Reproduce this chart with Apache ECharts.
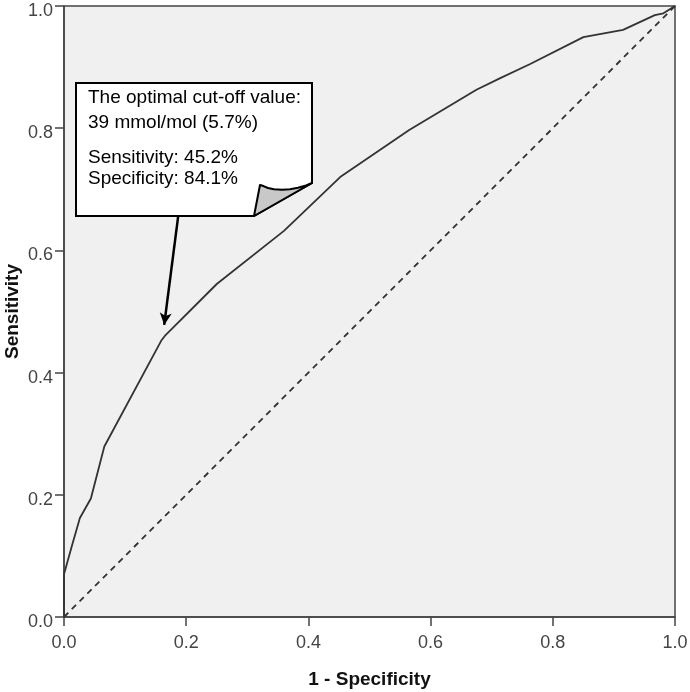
<!DOCTYPE html>
<html>
<head>
<meta charset="utf-8">
<script src="https://cdn.jsdelivr.net/npm/echarts@6/dist/echarts.min.js"></script>
<style>
  html, body { margin: 0; padding: 0; background: #fff; }
  #roc { width: 690px; height: 692px; }
</style>
</head>
<body>
<div id="roc"></div>
<script>
// ROC curve
const fpr = [0, 0, 0.0125, 0.026, 0.044, 0.066, 0.159, 0.165, 0.25, 0.36, 0.452, 0.565, 0.675, 0.714, 0.763, 0.85, 0.915, 0.967, 0.981, 1.0]
const tpr = [0, 0.07, 0.115, 0.162, 0.194, 0.279, 0.452, 0.46, 0.545, 0.632, 0.72, 0.797, 0.863, 0.882, 0.905, 0.949, 0.961, 0.985, 0.988, 1.0]
const refX = [0, 1]
const refY = [0, 1]
const tickLabels = ['0.0', '0.2', '0.4', '0.6', '0.8', '1.0']

// callout arrow: from bottom of the box to the optimal point
const arrowFrom = [0.187, 0.657]
const arrowTo = [0.164, 0.478]

const noteLines = ['The optimal cut-off value:', '39 mmol/mol (5.7%)', 'Sensitivity: 45.2%', 'Specificity: 84.1%']

const font = 'Arial, "Liberation Sans", sans-serif'

const chart = echarts.init(document.getElementById('roc'))

const axisCommon = {
  type: 'value',
  min: 0,
  max: 1,
  interval: 0.2,
  nameLocation: 'middle',
  nameTextStyle: { fontFamily: font, fontSize: 19, fontWeight: 'bold', color: '#111' },
  axisLine: { show: true, lineStyle: { color: '#444', width: 1.5 } },
  axisTick: { show: true, length: 9, lineStyle: { color: '#444', width: 1.5 } },
  splitLine: { show: false },
  axisLabel: {
    fontFamily: font,
    fontSize: 18,
    color: '#444',
    formatter: v => tickLabels[Math.round(v * 5)]
  }
}

const option = {
  animation: false,
  backgroundColor: '#fff',
  grid: {
    left: 64, top: 6, width: 611, height: 611,
    outerBoundsMode: 'none',
    containLabel: false,
    show: true,
    backgroundColor: '#f0f0f0',
    borderColor: '#444',
    borderWidth: 1.5
  },
  xAxis: Object.assign({}, axisCommon, {
    name: '1 - Specificity',
    nameGap: 53,
    axisLabel: Object.assign({}, axisCommon.axisLabel, { margin: 17 })
  }),
  yAxis: Object.assign({}, axisCommon, {
    name: 'Sensitivity',
    nameGap: 42,
    nameMoveOverlap: false,
    nameRotate: 90,
    axisLabel: Object.assign({}, axisCommon.axisLabel, {
      margin: 11,
      formatter: v => '{a|' + tickLabels[Math.round(v * 5)] + '}',
      rich: { a: { fontFamily: font, fontSize: 18, color: '#444', padding: [10, 0, 0, 0] } }
    })
  }),
  series: [
    {
      name: 'reference',
      type: 'line',
      data: refX.map((x, i) => [x, refY[i]]),
      symbol: 'none',
      lineStyle: { color: '#333', width: 1.8, type: [6, 5] },
      z: 2
    },
    {
      name: 'ROC',
      type: 'line',
      data: fpr.map((x, i) => [x, tpr[i]]),
      symbol: 'none',
      lineStyle: { color: '#333', width: 1.8 },
      z: 3,
      markLine: {
        silent: true,
        symbol: ['none', 'arrow'],
        symbolSize: [9, 12],
        label: { show: false },
        lineStyle: { color: '#000', width: 2.5, type: 'solid' },
        data: [[{ coord: arrowFrom }, { coord: arrowTo }]]
      }
    }
  ],
  graphic: [
    {
      type: 'group',
      z: 10,
      children: [
        {
          type: 'polygon',
          shape: { points: [[76, 83], [312, 83], [312, 183], [254, 216], [76, 216]] },
          style: { fill: '#fff', stroke: '#000', lineWidth: 2 }
        },
        {
          // folded corner
          type: 'polygon',
          shape: {
            points: [[254, 216], [312, 183], [306, 185.5], [298, 187.8], [290, 189.3], [282, 189.8],
              [274, 189.3], [268, 188], [264, 186.3], [261, 185.2], [260, 185]]
          },
          style: { fill: '#c8c8c8', stroke: '#000', lineWidth: 2, lineJoin: 'round' }
        },
        ...noteLines.map((t, i) => ({
          type: 'text',
          style: {
            x: 88,
            y: [97.5, 123, 158, 178.5][i],
            text: t,
            fill: '#000',
            font: '19px ' + font,
            verticalAlign: 'middle'
          }
        }))
      ]
    }
  ]
}

chart.setOption(option)
</script>
</body>
</html>
